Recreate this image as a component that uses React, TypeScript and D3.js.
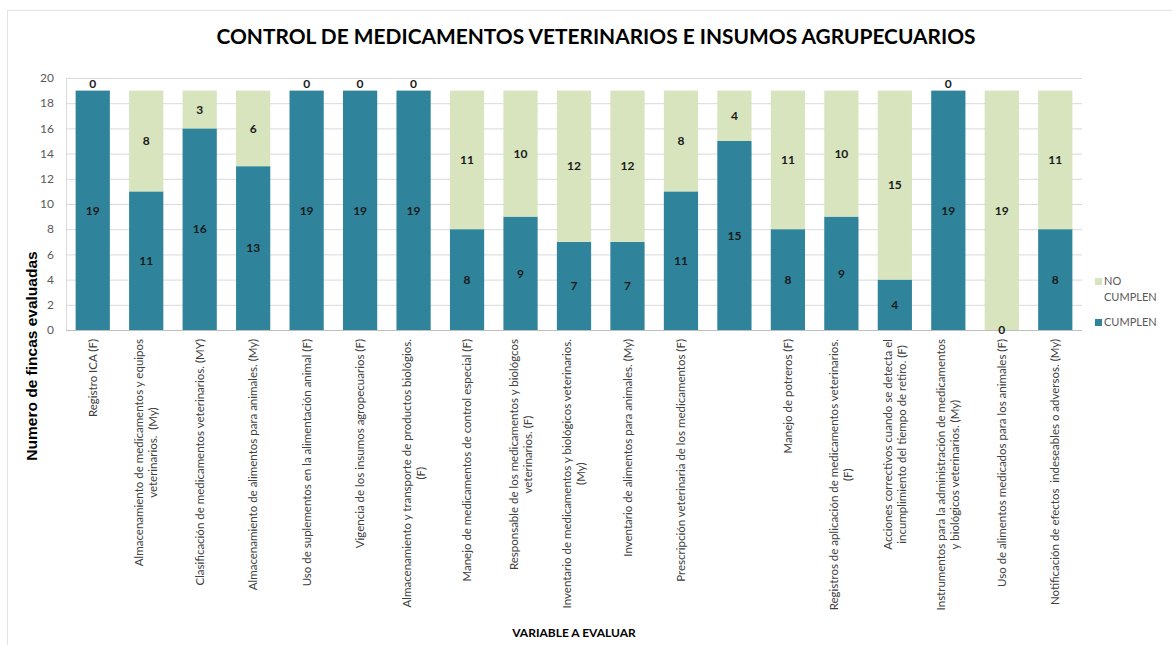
import React, { useEffect, useRef } from 'react';
import * as d3 from 'd3';

// categories, "\n" marks a line break inside the rotated label
const categories = [
  'Registro ICA (F)',
  'Almacenamiento de medicamentos y equipos\nveterinarios.  (My)',
  'Clasificación de medicamentos veterinarios. (MY)',
  'Almacenamiento de alimentos para animales. (My)',
  'Uso de suplementos en la alimentación animal (F)',
  'Vigencia de los insumos agropecuarios (F)',
  'Almacenamiento y transporte de productos biológios.\n(F)',
  'Manejo de medicamentos de control especial (F)',
  'Responsable de los medicamentos y biológcos\nveterinarios. (F)',
  'Inventario de medicamentos y biológicos veterinarios.\n(My)',
  'Inventario de alimentos para animales. (My)',
  'Prescripción veterinaria de los medicamentos (F)',
  '',
  'Manejo de potreros (F)',
  'Registros de aplicación de medicamentos veterinarios.\n(F)',
  'Acciones correctivos cuando se detecta el\nincumplimiento del tiempo de retiro. (F)',
  'Instrumentos para la administración de medicamentos\ny biológicos veterinarios. (My)',
  'Uso de alimentos medicados para los animales (F)',
  'Notificación de efectos  indeseables o adversos. (My)',
];
const cumplen = [19, 11, 16, 13, 19, 19, 19, 8, 9, 7, 7, 11, 15, 8, 9, 4, 19, 0, 8];
const noCumplen = [0, 8, 3, 6, 0, 0, 0, 11, 10, 12, 12, 8, 4, 11, 10, 15, 0, 19, 11];
const yTicks = [0, 2, 4, 6, 8, 10, 12, 14, 16, 18, 20];
const seriesKeys = ['cumplen', 'noCumplen'];
const seriesNames = { cumplen: 'CUMPLEN', noCumplen: 'NO CUMPLEN' };

const W = 1172;
const H = 645;
const colors = { cumplen: '#2f849b', noCumplen: '#d7e4bd' };
const FONT = 'Lato, "Open Sans", sans-serif';

const App = () => {
  const svgRef = useRef(null);

  useEffect(() => {
    const svg = d3.select(svgRef.current);
    svg.selectAll('*').remove();

    const margin = { top: 78, left: 66, right: W - 1082, bottom: H - 330 };
    const x = d3.scaleBand()
      .domain(categories.map((_, i) => String(i)))
      .range([margin.left, W - margin.right])
      .paddingInner(0.36)
      .paddingOuter(0.18);
    const y = d3.scaleLinear().domain([0, 20]).range([H - margin.bottom, margin.top]);

    // chart frame
    svg.append('rect')
      .attr('x', 7.5).attr('y', 10.5)
      .attr('width', W).attr('height', H)
      .attr('fill', '#fff').attr('stroke', '#e3e3e3');

    // title
    svg.append('text')
      .attr('x', 596).attr('y', 44)
      .attr('text-anchor', 'middle')
      .attr('font-family', FONT).attr('font-weight', 700).attr('font-size', 20)
      .attr('textLength', 759).attr('lengthAdjust', 'spacingAndGlyphs')
      .attr('fill', '#000')
      .text('CONTROL DE MEDICAMENTOS VETERINARIOS E INSUMOS AGRUPECUARIOS');

    // gridlines
    svg.append('g')
      .selectAll('line')
      .data(yTicks)
      .join('line')
      .attr('x1', margin.left).attr('x2', W - margin.right)
      .attr('y1', d => y(d) + 0.5).attr('y2', d => y(d) + 0.5)
      .attr('stroke', d => (d === 0 ? '#bfbfbf' : '#d9d9d9'));

    svg.append('line')
      .attr('x1', margin.left + 0.5).attr('x2', margin.left + 0.5)
      .attr('y1', y(20)).attr('y2', y(0))
      .attr('stroke', '#d9d9d9');

    // y tick labels
    svg.append('g')
      .selectAll('text')
      .data(yTicks)
      .join('text')
      .attr('x', 54).attr('y', d => y(d))
      .attr('dy', '0.35em')
      .attr('text-anchor', 'end')
      .attr('font-family', FONT).attr('font-size', 12)
      .attr('fill', '#595959')
      .text(d => d);

    // stacked bars
    const table = categories.map((c, i) => ({ cat: String(i), cumplen: cumplen[i], noCumplen: noCumplen[i] }));
    const stacked = d3.stack().keys(seriesKeys)(table);

    const layers = svg.append('g')
      .selectAll('g')
      .data(stacked)
      .join('g')
      .attr('fill', d => colors[d.key]);

    layers.selectAll('rect')
      .data(d => d)
      .join('rect')
      .attr('x', d => x(d.data.cat))
      .attr('width', x.bandwidth())
      .attr('y', d => y(d[1]))
      .attr('height', d => y(d[0]) - y(d[1]));

    // data labels
    stacked.forEach((layer) => {
      svg.append('g')
        .selectAll('text')
        .data(layer)
        .join('text')
        .attr('x', d => x(d.data.cat) + x.bandwidth() / 2)
        .attr('y', (d) => {
          const v = d[1] - d[0];
          const mid = y((d[0] + d[1]) / 2);
          return v === 0 && layer.key === 'noCumplen' ? mid - 7 : mid;
        })
        .attr('dy', '0.35em')
        .attr('text-anchor', 'middle')
        .attr('font-family', FONT).attr('font-weight', 700).attr('font-size', 12)
        .attr('fill', '#1a1a1a')
        .text(d => d[1] - d[0]);
    });

    // category labels, rotated
    svg.append('clipPath').attr('id', 'labClip')
      .append('rect').attr('x', 0).attr('y', 334).attr('width', W).attr('height', 307);

    const labs = svg.append('g').attr('clip-path', 'url(#labClip)');
    categories.forEach((c, i) => {
      if (!c) return;
      const lines = c.split('\n');
      const g = labs.append('g')
        .attr('transform', `translate(${x(String(i)) + x.bandwidth() / 2},339) rotate(-90)`);
      const t = g.append('text')
        .attr('text-anchor', 'middle')
        .attr('font-family', FONT).attr('font-size', 11.5)
        .attr('fill', '#404040');
      lines.forEach((ln, j) => {
        t.append('tspan')
          .attr('x', 0)
          .attr('y', (j - (lines.length - 1) / 2) * 14)
          .attr('dy', '0.35em')
          .attr('xml:space', 'preserve')
          .text(ln);
      });
      const len = d3.max(t.selectAll('tspan').nodes(), n => n.getComputedTextLength());
      t.attr('transform', `translate(${-len / 2},0)`);
    });

    // axis titles
    svg.append('text')
      .attr('transform', 'translate(32,356) rotate(-90)')
      .attr('text-anchor', 'middle').attr('dy', '0.35em')
      .attr('font-family', '"Liberation Sans", Arial, sans-serif')
      .attr('font-weight', 700).attr('font-size', 15.5)
      .attr('fill', '#000')
      .text('Numero de fincas evaluadas');

    svg.append('text')
      .attr('x', (margin.left + W - margin.right) / 2).attr('y', 637)
      .attr('text-anchor', 'middle')
      .attr('font-family', FONT).attr('font-weight', 700).attr('font-size', 12)
      .attr('fill', '#000')
      .text('VARIABLE A EVALUAR');

    // legend
    const legend = svg.append('g').attr('font-family', FONT).attr('font-size', 11).attr('fill', '#595959');
    legend.append('rect').attr('x', 1095).attr('y', 278).attr('width', 7).attr('height', 7).attr('fill', colors.noCumplen);
    legend.append('text').attr('x', 1104).attr('y', 285).text(seriesNames.noCumplen.split(' ')[0]);
    legend.append('text').attr('x', 1104).attr('y', 301).text(seriesNames.noCumplen.split(' ')[1]);
    legend.append('rect').attr('x', 1095).attr('y', 319).attr('width', 7).attr('height', 7).attr('fill', colors.cumplen);
    legend.append('text').attr('x', 1104).attr('y', 326).text(seriesNames.cumplen);
  }, []);

  return (
    <div style={{ position: 'absolute', left: 0, top: 0 }}>
      <svg ref={svgRef} width={W} height={H} style={{ display: 'block' }} />
    </div>
  );
};

export default App;
